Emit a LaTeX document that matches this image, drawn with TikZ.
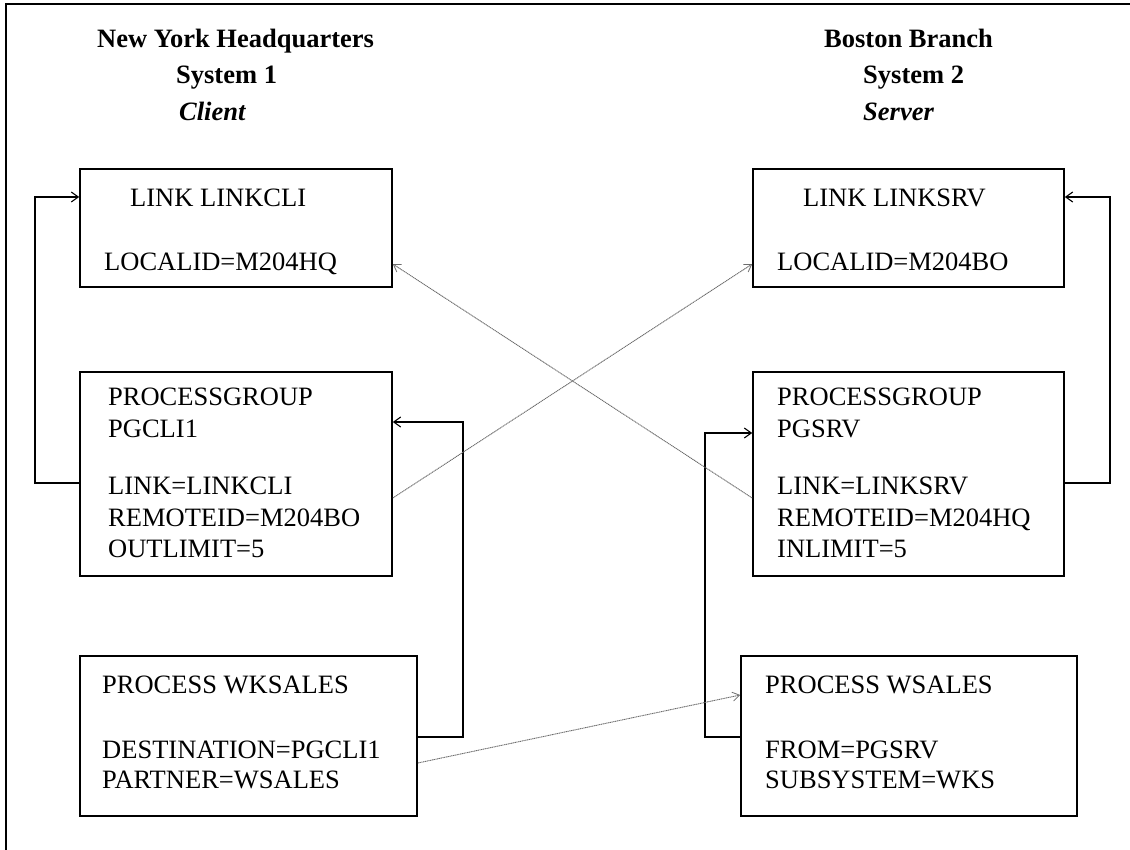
\documentclass[tikz,border=0pt]{standalone}
\usepackage{fontspec}
\setmainfont{Liberation Serif}
\usetikzlibrary{arrows.meta}
\begin{document}
\begin{tikzpicture}[x=1pt,y=-1pt,
  box/.style={draw,line width=1.6pt,rectangle,inner sep=0pt},
  txt/.style={anchor=base west,inner sep=0pt,font=\fontsize{26.5}{32}\selectfont},
  head/.style={anchor=base west,inner sep=0pt,font=\fontsize{26.5}{32}\selectfont\bfseries},
  conn/.style={line width=1.6pt,-{Straight Barb[length=7pt,width=10pt,line width=1.1pt]}},
  xlink/.style={draw=gray!85!black,line width=0.9pt,dash pattern=on 1.2pt off 0.6pt,-{Straight Barb[length=7pt,width=9pt,line width=0.8pt]}}]
\useasboundingbox (0,0) rectangle (1130,850);
% partial frame
\coordinate (ftl) at (6,4);
\coordinate (ftr) at (1130,4);
\coordinate (fbl) at (6,850);
\draw[line width=1.6pt] (fbl) -- (ftl) -- (ftr);
% headings
\node[head] (ny) at (97,48) {New York Headquarters};
\node[head] (s1) at (176,84) {System 1};
\node[head,font=\fontsize{26.5}{32}\selectfont\bfseries\itshape] (cl) at (179,121) {Client};
\node[head] (bb) at (824,48) {Boston Branch};
\node[head] (s2) at (863,84) {System 2};
\node[head,font=\fontsize{26.5}{32}\selectfont\bfseries\itshape] (sv) at (863,121) {Server};
% boxes
\node[box,minimum width=312pt,minimum height=118pt] (lcli) at (236,228) {};
\node[box,minimum width=312pt,minimum height=204pt] (pgcli) at (236,474) {};
\node[box,minimum width=337pt,minimum height=160pt] (wks) at (248.5,736) {};
\node[box,minimum width=311pt,minimum height=118pt] (lsrv) at (908.5,228) {};
\node[box,minimum width=311pt,minimum height=204pt] (pgsrv) at (908.5,474) {};
\node[box,minimum width=336pt,minimum height=160pt] (wsa) at (909,736) {};
% box texts
\node[txt] (t1) at (130,207) {LINK LINKCLI};
\node[txt] (t2) at (104,271) {LOCALID=M204HQ};
\node[txt] (t3) at (803,207) {LINK LINKSRV};
\node[txt] (t4) at (777,271) {LOCALID=M204BO};
\node[txt] (t5) at (108,405) {PROCESSGROUP};
\node[txt] (t6) at (108,437) {PGCLI1};
\node[txt] (t7) at (108,494) {LINK=LINKCLI};
\node[txt] (t8) at (108,526) {REMOTEID=M204BO};
\node[txt] (t9) at (108,557) {OUTLIMIT=5};
\node[txt] (u5) at (777,405) {PROCESSGROUP};
\node[txt] (u6) at (777,437) {PGSRV};
\node[txt] (u7) at (777,494) {LINK=LINKSRV};
\node[txt] (u8) at (777,526) {REMOTEID=M204HQ};
\node[txt] (u9) at (777,557) {INLIMIT=5};
\node[txt] (w1) at (102,693) {PROCESS WKSALES};
\node[txt] (w2) at (102,758) {DESTINATION=PGCLI1};
\node[txt] (w3) at (102,788) {PARTNER=WSALES};
\node[txt] (v1) at (765,693) {PROCESS WSALES};
\node[txt] (v2) at (765,758) {FROM=PGSRV};
\node[txt] (v3) at (765,788) {SUBSYSTEM=WKS};
% connectors
\draw[conn] (pgcli.west |- 0,483) -- (35,483) -- (35,197) -- (lcli.west |- 0,197);
\draw[conn] (pgsrv.east |- 0,483) -- (1110,483) -- (1110,197) -- (lsrv.east |- 0,197);
\draw[conn] (wks.east |- 0,737) -- (463,737) -- (463,422) -- (pgcli.east |- 0,422);
\draw[conn] (wsa.west |- 0,737) -- (705,737) -- (705,433) -- (pgsrv.west |- 0,433);
\draw[xlink] (pgcli.east |- 0,498) -- (lsrv.west |- 0,264);
\draw[xlink] (pgsrv.west |- 0,498) -- (lcli.east |- 0,264);
\draw[xlink] (wks.east |- 0,763) -- (wsa.west |- 0,695);
\end{tikzpicture}
\end{document}
